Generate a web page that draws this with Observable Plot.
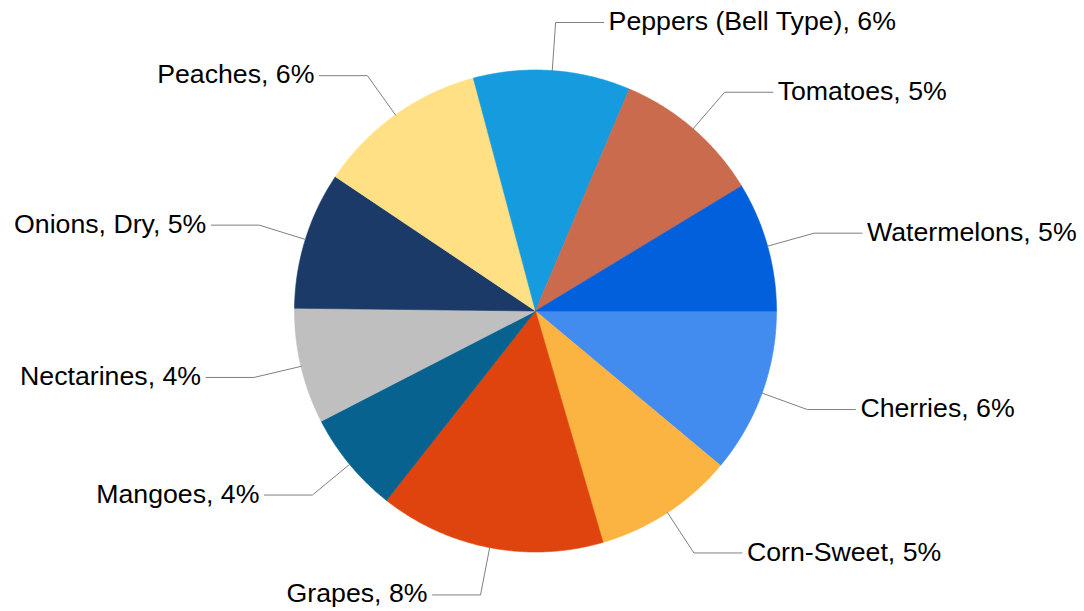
<!DOCTYPE html>
<html>
<head>
<meta charset="utf-8">
<script src="https://cdn.jsdelivr.net/npm/d3@7"></script>
<script src="https://cdn.jsdelivr.net/npm/@observablehq/plot@0.6"></script>
<style>
  html, body { margin: 0; padding: 0; background: #ffffff; }
  #chart svg { display: block; }
</style>
</head>
<body>
<div id="chart"></div>
<script>
// ---- Data ----
const categories = ["Cherries", "Corn-Sweet", "Grapes", "Mangoes", "Nectarines",
  "Onions, Dry", "Peaches", "Peppers (Bell Type)", "Tomatoes", "Watermelons"];
const shares = [6.0, 5.1, 8.2, 3.7, 4.2, 5.0, 6.2, 5.7, 5.4, 4.7]; // percent
const colors = ["#428BEF", "#FBB441", "#E0440E", "#08628F", "#BFBFBF",
  "#1B3A68", "#FFE084", "#169CDE", "#C96B4C", "#0360DC"];

// ---- Layout ----
const W = 1084, H = 611;
const cx = 535, cy = 310.5, R = 241;   // pie centre / radius in pixels
const elbowR = 1.2;                     // leader elbow, in radii
const runPx = 48;                       // horizontal leader length

const total = d3.sum(shares);
let acc = 0;
const slices = categories.map((name, i) => {
  const a0 = acc / total * 2 * Math.PI;
  acc += shares[i];
  const a1 = acc / total * 2 * Math.PI;
  return {name, value: shares[i], a0, a1, mid: (a0 + a1) / 2};
});
// angles run clockwise on screen from 3 o'clock
const pt = (a, r) => ({x: r * Math.cos(a), y: -r * Math.sin(a)});

const wedgePts = slices.flatMap(s => {
  const n = Math.max(2, Math.ceil((s.a1 - s.a0) / (Math.PI / 360)));
  const pts = [{name: s.name, x: 0, y: 0}];
  for (let k = 0; k <= n; k++) {
    const a = s.a0 + (s.a1 - s.a0) * k / n;
    pts.push({name: s.name, ...pt(a, 1)});
  }
  pts.push({name: s.name, x: 0, y: 0});
  return pts;
});

const labels = slices.map(s => {
  const p0 = pt(s.mid, 1), p1 = pt(s.mid, elbowR);
  const side = p1.x >= 0 ? 1 : -1;
  const p2 = {x: p1.x + side * runPx / R, y: p1.y};
  return {name: s.name, side, p0, p1, p2, text: `${s.name}, ${Math.round(s.value)}%`};
});
const leaderPts = labels.flatMap(l => [l.p0, l.p1, l.p2].map(p => ({name: l.name, ...p})));

const font = "'Liberation Sans', Arial, Helvetica, sans-serif";
const textOpts = (anchor, dx) => ({
  x: d => d.p2.x, y: d => d.p2.y, text: "text",
  textAnchor: anchor, dx, dy: -1, fontSize: 26.7, fill: "#000000", fontFamily: font
});

const chart = Plot.plot({
  width: W, height: H, margin: 0,
  x: {domain: [-cx / R, (W - cx) / R], range: [0, W], axis: null},
  y: {domain: [-(H - cy) / R, cy / R], range: [H, 0], axis: null},
  color: {domain: categories, range: colors},
  style: {background: "#ffffff", fontFamily: font},
  marks: [
    Plot.line(wedgePts, {x: "x", y: "y", z: "name", fill: "name", stroke: "name", strokeWidth: 0.6, curve: "linear"}),
    Plot.line(leaderPts, {x: "x", y: "y", z: "name", stroke: "#7f7f7f", strokeWidth: 1, curve: "linear"}),
    Plot.text(labels.filter(d => d.side > 0), textOpts("start", 5)),
    Plot.text(labels.filter(d => d.side < 0), textOpts("end", -5))
  ]
});
document.getElementById("chart").appendChild(chart);
</script>
</body>
</html>
